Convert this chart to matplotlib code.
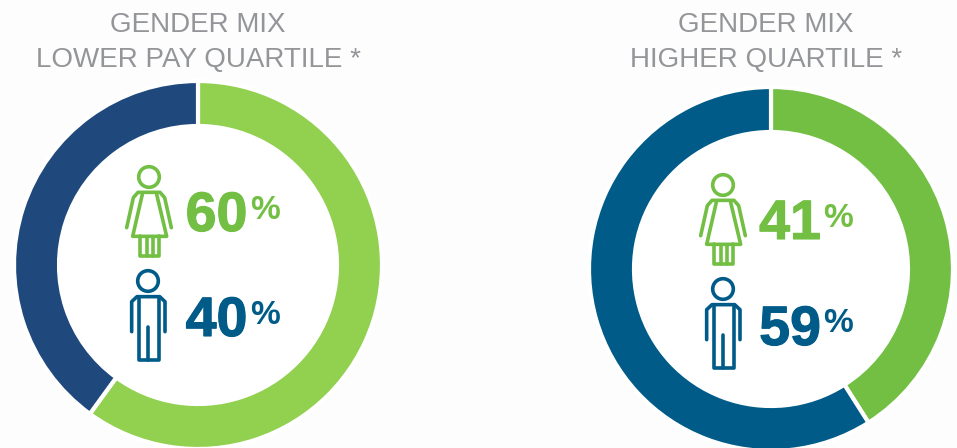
import matplotlib
matplotlib.use('Agg')
import matplotlib.pyplot as plt
import matplotlib.patheffects as pe
from matplotlib.patches import Circle

W, H = 957, 448
GREEN_LIGHT = '#92d050'
GREEN = '#72bf44'
NAVY = '#1f497d'
BLUE = '#005b88'
GREY = '#939598'
LW = 2.6

titles = ['GENDER MIX\nLOWER PAY QUARTILE *', 'GENDER MIX\nHIGHER QUARTILE *']
lower_share = [60, 40]
higher_share = [41, 59]

plt.rcParams['font.family'] = ['Liberation Sans', 'DejaVu Sans']

fig = plt.figure(figsize=(W / 100, H / 100), dpi=100, facecolor='#fdfdfd')
ax = fig.add_axes([0, 0, 1, 1])


def yy(py):
    # picture pixels count from the top
    return H - py


def _stroke(points, color, x0, y0):
    xs = [x0 + p[0] / 3 for p in points]
    ys = [yy(y0 + p[1] / 3) for p in points]
    ax.plot(xs, ys, color=color, lw=LW, solid_capstyle='round',
            solid_joinstyle='round', zorder=3)


def draw_woman(x0, y0, color):
    # offsets are in 3x zoom pixels from the head centre
    ax.add_patch(Circle((x0, yy(y0)), 10.3, fill=False, ec=color, lw=LW, zorder=3))
    _stroke([(-67, 152), (-47, 62), (-33, 46), (33, 46), (47, 62), (67, 152)],
            color, x0, y0)
    _stroke([(-20, 52), (-49, 178), (53, 178), (23, 52)], color, x0, y0)
    _stroke([(-27, 178), (-27, 238), (31, 238), (31, 178)], color, x0, y0)
    _stroke([(-7, 180), (-7, 236)], color, x0, y0)
    _stroke([(11, 180), (11, 236)], color, x0, y0)


def draw_man(x0, y0, color):
    ax.add_patch(Circle((x0, yy(y0)), 10.3, fill=False, ec=color, lw=LW, zorder=3))
    _stroke([(-49, 152), (-49, 62), (-33, 47), (35, 47), (51, 62), (51, 152)],
            color, x0, y0)
    _stroke([(-27, 52), (-27, 238), (33, 238), (33, 52)], color, x0, y0)
    _stroke([(0, 138), (0, 236)], color, x0, y0)


panels = [
    dict(share=lower_share, colors=[GREEN_LIGHT, NAVY], centre=(198, 265),
         radius=184, inner=139, title=titles[0], title_x=198, title_y=42.5,
         woman=(149, 177), man=(148, 281), num_x=216.5, pct_x=265, rows=(217, 322)),
    dict(share=higher_share, colors=[GREEN, BLUE], centre=(771, 269),
         radius=182, inner=137, title=titles[1], title_x=766, title_y=42.5,
         woman=(723, 185), man=(723, 289), num_x=790, pct_x=838, rows=(225, 331)),
]

for p in panels:
    cx, cy = p['centre']
    ax.pie(p['share'], colors=p['colors'], startangle=90, counterclock=False,
           center=(cx, yy(cy)), radius=p['radius'], frame=True,
           wedgeprops={'width': p['radius'] - p['inner'], 'edgecolor': 'white',
                       'linewidth': 3})
    ax.add_patch(Circle((cx, yy(cy)), p['inner'], fc='white', ec='none', zorder=1.5))
    ax.text(p['title_x'], yy(p['title_y']), p['title'], color=GREY, fontsize=20,
            ha='center', va='center', linespacing=1.42, zorder=5)
    draw_woman(p['woman'][0], p['woman'][1], GREEN)
    draw_man(p['man'][0], p['man'][1], BLUE)
    for val, col, row in zip(p['share'], (GREEN, BLUE), p['rows']):
        ax.text(p['num_x'], yy(row), str(val), color=col, fontsize=40,
                fontweight='bold', ha='center', va='center', zorder=5,
                path_effects=[pe.withStroke(linewidth=0.8, foreground=col)])
        ax.text(p['pct_x'], yy(row - 7), '%', color=col, fontsize=24,
                fontweight='bold', ha='center', va='center', zorder=5)

ax.set_xlim(0, W)
ax.set_ylim(0, H)
ax.axis('off')
fig.savefig('out.png', dpi=100, facecolor=fig.get_facecolor())
